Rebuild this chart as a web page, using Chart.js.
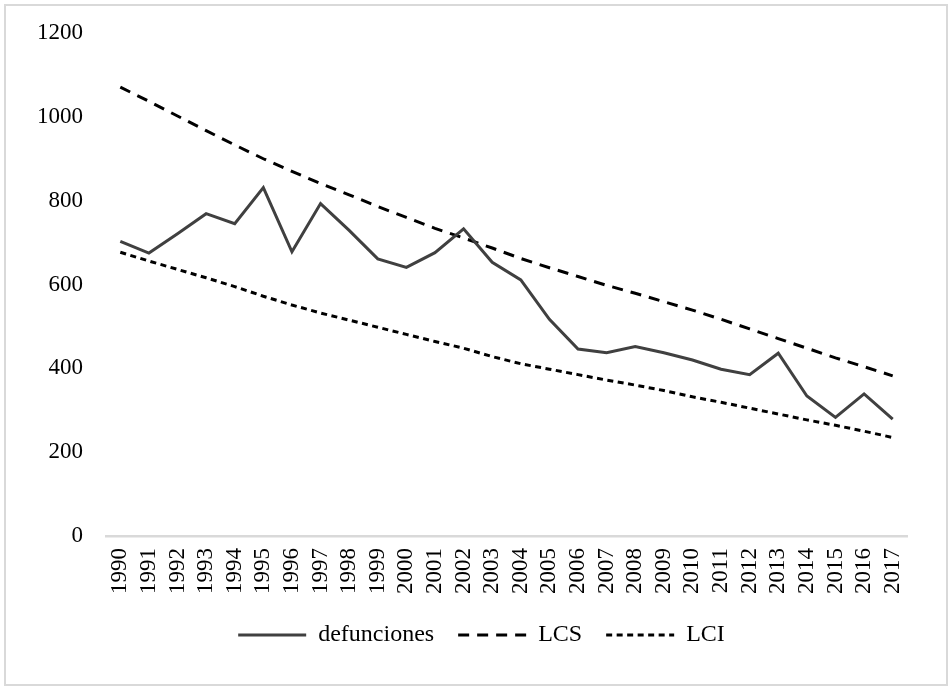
<!DOCTYPE html>
<html>
<head>
<meta charset="utf-8">
<script src="https://cdn.jsdelivr.net/npm/chart.js@4.4.1/dist/chart.umd.min.js"></script>
<style>
  html, body { margin: 0; padding: 0; background: #fff; }
  #wrap { width: 952px; height: 690px; }
</style>
</head>
<body>
<div id="wrap"><canvas id="chart" width="952" height="690"></canvas></div>
<script>
const years = ['1990', '1991', '1992', '1993', '1994', '1995', '1996', '1997', '1998', '1999',
  '2000', '2001', '2002', '2003', '2004', '2005', '2006', '2007', '2008', '2009',
  '2010', '2011', '2012', '2013', '2014', '2015', '2016', '2017']
const defunciones = [703, 675, 721, 769, 745, 831, 678, 793, 729, 661, 641, 676, 733, 653,
  611, 517, 446, 437, 452, 437, 420, 398, 385, 436, 334, 283, 339, 279]
const lcs = [1071, 1037, 1002, 967, 933, 900, 870, 841, 814, 786, 760, 734, 711, 687,
  662, 640, 619, 598, 579, 559, 539, 517, 494, 471, 448, 425, 404, 382]
const lci = [677, 656, 636, 616, 595, 572, 551, 532, 515, 498, 481, 464, 448, 428,
  411, 398, 385, 372, 360, 347, 332, 319, 305, 291, 277, 264, 250, 235]

const serif = "'Liberation Serif', 'Times New Roman', serif"

// white page with the thin grey frame round it, legend nudged right a little
const frame = {
  id: 'frame',
  afterLayout(chart) {
    chart.legend.left += 18
    chart.legend.right += 18
  },
  beforeDraw(chart) {
    const ctx = chart.ctx
    ctx.save()
    ctx.fillStyle = '#fff'
    ctx.fillRect(0, 0, chart.width, chart.height)
    ctx.strokeStyle = '#d9d9d9'
    ctx.lineWidth = 2
    ctx.strokeRect(5, 5, chart.width - 10, chart.height - 10)
    ctx.restore()
  }
}

Chart.defaults.font.family = serif
Chart.defaults.font.size = 23
Chart.defaults.color = '#000'

// legend samples: take dash and width from the dataset line, not from its points
function legendLabels(chart) {
  const items = Chart.defaults.plugins.legend.labels.generateLabels(chart)
  items.forEach((item, i) => {
    const ds = chart.data.datasets[i]
    item.pointStyle = 'line'
    item.lineWidth = ds.borderWidth
    item.lineDash = ds.borderDash || []
    item.strokeStyle = ds.borderColor
  })
  return items
}

new Chart(document.getElementById('chart'), {
  type: 'line',
  data: {
    labels: years,
    datasets: [
      { label: 'defunciones', data: defunciones, borderColor: '#404040', backgroundColor: '#404040',
        borderWidth: 3, pointRadius: 0, tension: 0 },
      { label: 'LCS', data: lcs, borderColor: '#000', backgroundColor: '#000',
        borderWidth: 3, borderDash: [11, 8], pointRadius: 0, tension: 0 },
      { label: 'LCI', data: lci, borderColor: '#000', backgroundColor: '#000',
        borderWidth: 3, borderDash: [6, 4.5], pointRadius: 0, tension: 0 }
    ]
  },
  options: {
    responsive: false,
    animation: false,
    layout: { padding: { left: 20, right: 45, top: 20, bottom: 33 } },
    scales: {
      x: {
        offset: true,
        grid: { display: false, drawTicks: false },
        border: { display: true, color: '#d9d9d9', width: 2.5 },
        ticks: { maxRotation: 90, minRotation: 90, padding: 12, autoSkip: false },
        afterFit(scale) { scale.height = 63 }
      },
      y: {
        min: 0,
        max: 1200,
        grid: { display: false, drawTicks: false },
        border: { display: false },
        // tick padding also pads the top of the plot, so keep the line height tight
        ticks: { stepSize: 200, padding: 23, font: { lineHeight: 0.87 }, callback: v => String(v) },
        afterFit(scale) { scale.width = 86 }
      }
    },
    plugins: {
      legend: {
        position: 'bottom',
        labels: {
          usePointStyle: true,
          pointStyle: 'line',
          pointStyleWidth: 68,
          boxHeight: 22,
          padding: 24,
          font: { size: 24 },
          generateLabels: legendLabels
        }
      },
      tooltip: { enabled: false }
    }
  },
  plugins: [frame]
})
</script>
</body>
</html>
